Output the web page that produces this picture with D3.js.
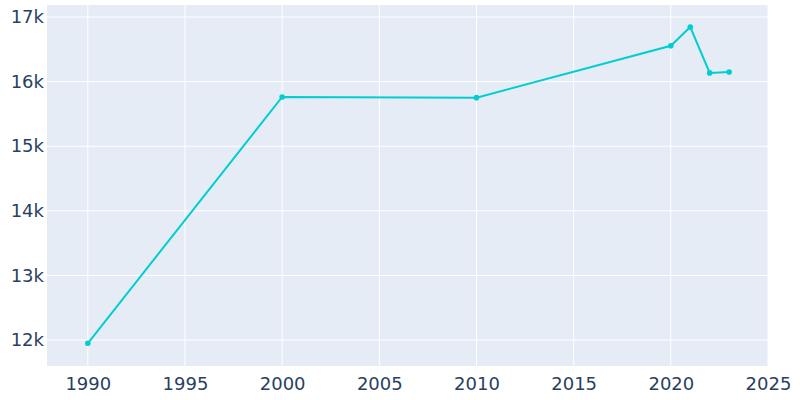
<!DOCTYPE html>
<html><head><meta charset="utf-8">
<script src="https://cdn.jsdelivr.net/npm/d3@7"></script>
<style>body{margin:0;background:#fff}text{font-family:"DejaVu Sans",sans-serif}</style>
</head><body><svg id="c" width="800" height="400"></svg>
<script>
const years = [1990, 2000, 2010, 2020, 2021, 2022, 2023];
const population = [11950, 15762, 15752, 16555, 16845, 16135, 16148];
const xTicks = [1990, 1995, 2000, 2005, 2010, 2015, 2020, 2025];
const yTicks = [12000, 13000, 14000, 15000, 16000, 17000];

const svg = d3.select("#c");
const L = 47, R = 768, T = 5, B = 366;
const x = d3.scaleLinear().domain([1987.9, 2025]).range([L, R]);
const y = d3.scaleLinear().domain([11598, 17186]).range([B, T]);

svg.append("rect").attr("x", L).attr("y", T).attr("width", R - L).attr("height", B - T).attr("fill", "#E5ECF6");
const gx = svg.append("g");
xTicks.forEach(t => gx.append("line").attr("x1", x(t)).attr("x2", x(t)).attr("y1", T).attr("y2", B).attr("stroke", "#fff").attr("stroke-width", 1));
yTicks.forEach(t => gx.append("line").attr("x1", L).attr("x2", R).attr("y1", y(t)).attr("y2", y(t)).attr("stroke", "#fff").attr("stroke-width", 1));

svg.append("g").attr("transform", `translate(0,${B})`)
  .call(d3.axisBottom(x).tickValues(xTicks).tickFormat(d3.format("d")).tickSize(0).tickPadding(8))
  .call(g => g.select(".domain").remove())
  .selectAll("text").attr("fill", "#2a3f5f").style("font-size", "18px").attr("dy", "0.9em");
svg.append("g").attr("transform", `translate(${L},0)`)
  .call(d3.axisLeft(y).tickValues(yTicks).tickFormat(d => d / 1000 + "k").tickSize(0).tickPadding(3))
  .call(g => g.select(".domain").remove())
  .selectAll("text").attr("fill", "#2a3f5f").style("font-size", "18px");

const pts = years.map((d, i) => [d, population[i]]);
svg.append("path").datum(pts)
  .attr("d", d3.line().x(d => x(d[0])).y(d => y(d[1])))
  .attr("fill", "none").attr("stroke", "#00CED1").attr("stroke-width", 2);
svg.selectAll("circle.p").data(pts).enter().append("circle")
  .attr("cx", d => x(d[0])).attr("cy", d => y(d[1])).attr("r", 2.8).attr("fill", "#00CED1");
</script></body></html>
